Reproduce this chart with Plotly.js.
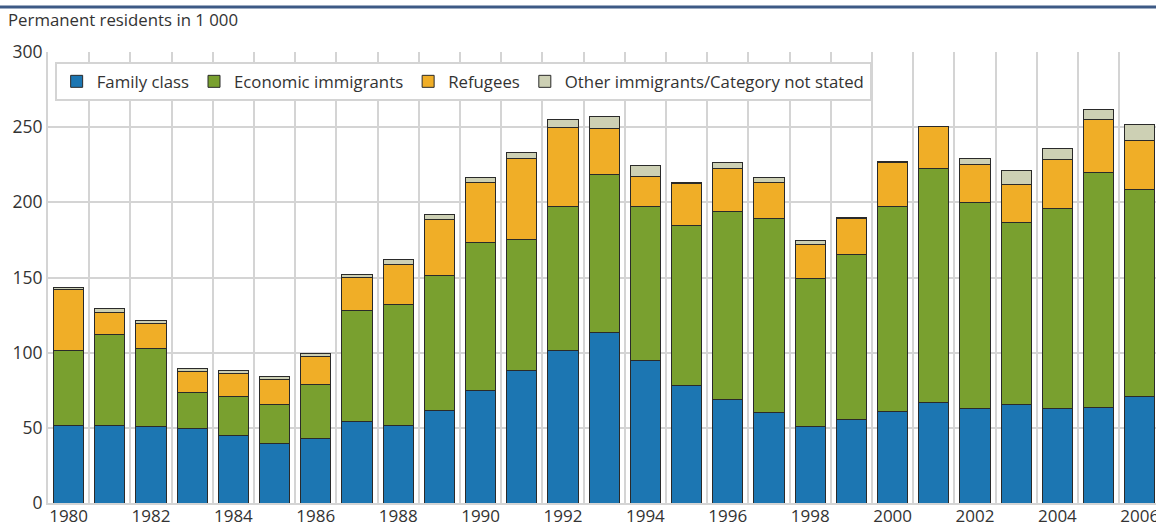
<!DOCTYPE html>
<html>
<head>
<meta charset="utf-8">
<script src="https://cdn.plot.ly/plotly-3.0.1.min.js"></script>
<style>html,body{margin:0;padding:0;background:#fff;}#chart{width:1156px;height:527px;}</style>
</head>
<body>
<div id="chart"></div>
<script>
const years = [1980,1981,1982,1983,1984,1985,1986,1987,1988,1989,1990,1991,1992,1993,1994,1995,1996,1997,1998,1999,2000,2001,2002,2003,2004,2005,2006];
const familyClass = [51.5,51.5,50.8,49.3,44.6,39.5,42.6,53.9,51.7,61.3,74.8,88.1,101.4,113.2,94.5,77.9,68.6,60.4,51.0,55.5,60.8,67.0,62.6,65.3,62.6,63.5,70.8];
const economic = [50.1,60.4,51.7,23.9,26.4,26.1,36.0,74.4,80.3,90.3,98.3,87.0,95.9,105.6,102.5,106.5,125.5,128.6,98.1,109.6,136.1,155.3,137.4,121.0,133.4,156.2,138.0];
const refugees = [40.2,15.0,16.7,14.0,14.9,16.7,19.0,21.5,26.7,37.0,40.2,53.9,52.4,30.6,20.4,28.2,28.7,24.0,22.9,23.9,29.9,27.9,25.2,25.6,32.5,35.4,32.4];
const other = [1.8,2.3,2.4,2.5,2.4,2.0,1.8,2.4,3.1,3.4,3.5,4.2,5.5,8.0,7.4,0.8,4.0,3.6,2.6,1.1,0.6,0.5,3.8,9.3,7.1,6.8,10.6];
const seriesNames = ["Family class","Economic immigrants","Refugees","Other immigrants/Category not stated"];
const yTicks = [0,50,100,150,200,250,300];
const xTicks = [1980,1982,1984,1986,1988,1990,1992,1994,1996,1998,2000,2002,2004,2006];

const colors = ["#1c76b2","#79a02f","#f0ae27","#cdd0b4"];
const vals = [familyClass, economic, refugees, other];
const font = "'Open Sans', 'Noto Sans', sans-serif";
const txt = '#333333';

const traces = vals.map((v,i)=>({
  type:'bar', x: years, y: v, name: seriesNames[i],
  marker:{color:colors[i], line:{color:'#2a2a2a', width:1}},
  hoverinfo:'skip'
}));

const layout = {
  width:1156, height:527,
  margin:{l:48, r:0, t:52, b:24, pad:0},
  barmode:'stack', bargap:0.27,
  paper_bgcolor:'#ffffff', plot_bgcolor:'#ffffff',
  font:{family:font, size:17, color:txt},
  showlegend:true,
  legend:{orientation:'h', x:0.006, xanchor:'left', y:0.978, yanchor:'top',
    bgcolor:'#ffffff', bordercolor:'#d4d4d4', borderwidth:2,
    font:{family:font, size:16.8, color:txt}, traceorder:'normal', itemwidth:30},
  title:{text:'Permanent residents in 1 000', font:{family:font, size:16.8, color:txt},
    x:8/1156, xref:'container', xanchor:'left', y:1-20/527, yref:'container', yanchor:'middle'},
  xaxis:{range:[1979.5, 1979.5 + 1108/41.2], tickmode:'array', tickvals:xTicks,
    ticktext: xTicks.map(String), showgrid:false, zeroline:false, ticklabeloverflow:'allow',
    ticklabelstandoff:-3,
    showline:true, linecolor:'#d4d4d4', linewidth:2, ticks:'',
    tickfont:{family:font, size:17, color:txt}},
  yaxis:{range:[0,300], tickmode:'array', tickvals:yTicks, showgrid:true, gridcolor:'#d4d4d4', gridwidth:2,
    zeroline:false, showline:true, linecolor:'#d4d4d4', linewidth:2, ticks:'',
    tickfont:{family:font, size:17.5, color:txt}},
  shapes:[{type:'line', xref:'paper', yref:'paper', x0:-48/1108, x1:1, y0:(503-7)/451, y1:(503-7)/451,
    line:{color:'#3d5a85', width:3}}]
};
layout.xaxis.minor = {tick0:1980.5, dtick:1, showgrid:true, gridcolor:'#d4d4d4', gridwidth:2, ticks:''};

Plotly.newPlot('chart', traces, layout, {staticPlot:true, displayModeBar:false});
</script>
</body>
</html>
